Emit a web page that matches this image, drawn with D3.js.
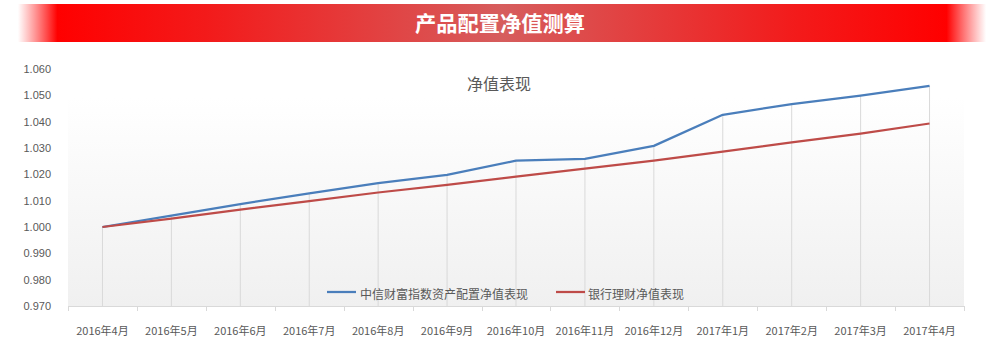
<!DOCTYPE html>
<html>
<head>
<meta charset="utf-8">
<script src="https://cdn.jsdelivr.net/npm/d3@7/dist/d3.min.js"></script>
<style>
  html, body { margin: 0; padding: 0; background: #fff; }
  svg { display: block; font-family: "Noto Sans CJK SC", "Noto Sans", sans-serif; }
</style>
</head>
<body>
<svg id="chart" width="1004" height="349"></svg>
<script>
// Monthly net value of the two products
const months = ["2016年4月", "2016年5月", "2016年6月", "2016年7月", "2016年8月", "2016年9月",
  "2016年10月", "2016年11月", "2016年12月", "2017年1月", "2017年2月", "2017年3月", "2017年4月"];
const citicValues = [1.0000, 1.0043, 1.0087, 1.0128, 1.0167, 1.0198, 1.0252,
  1.0259, 1.0308, 1.0426, 1.0467, 1.0499, 1.0536];
const bankValues = [1.0000, 1.0032, 1.0066, 1.0098, 1.0131, 1.0160, 1.0191,
  1.0222, 1.0252, 1.0286, 1.0321, 1.0355, 1.0393];
const yTicks = [0.970, 0.980, 0.990, 1.000, 1.010, 1.020, 1.030, 1.040, 1.050, 1.060];
const seriesNames = ["中信财富指数资产配置净值表现", "银行理财净值表现"];
const seriesColors = ["#4a7ebb", "#be4b48"];
const bannerTitle = "产品配置净值测算";
const chartTitle = "净值表现";

const svg = d3.select("#chart");
const defs = svg.append("defs");

// Banner gradient: fades in from white, bright red, softer red in the middle
const bg = defs.append("linearGradient").attr("id", "banner").attr("x1", "0").attr("x2", "1");
[[0, "#ffffff", 0], [0.01, "#ffffff", 0.9], [0.05, "#ff0000", 1], [0.2, "#f31a1a", 1],
 [0.5, "#d65d5d", 1], [0.8, "#f31a1a", 1], [0.95, "#ff0000", 1], [0.99, "#ffffff", 0.9], [1, "#ffffff", 0]]
  .forEach(([o, c, a]) => bg.append("stop").attr("offset", o).attr("stop-color", c).attr("stop-opacity", a));

svg.append("rect").attr("x", 8).attr("y", 4).attr("width", 988).attr("height", 38)
  .attr("rx", 3).attr("fill", "url(#banner)");
svg.append("text").attr("x", 500).attr("y", 30.5).attr("text-anchor", "middle")
  .attr("fill", "#fff").attr("font-size", 21).attr("font-weight", "bold")
  .attr("textLength", 170).attr("lengthAdjust", "spacingAndGlyphs")
  .text(bannerTitle);

// Plot area
const left = 68, right = 964, axisY = 306;
const x = d3.scaleBand().domain(months).range([left, right]);
const y = d3.scaleLinear().domain([0.970, 1.060]).range([axisY, 69]);

const pg = defs.append("linearGradient").attr("id", "plotbg").attr("x1", "0").attr("x2", "0").attr("y1", "0").attr("y2", "1");
pg.append("stop").attr("offset", 0).attr("stop-color", "#ffffff");
pg.append("stop").attr("offset", 1).attr("stop-color", "#f0f0f0");
svg.append("rect").attr("x", left).attr("y", 97).attr("width", right - left).attr("height", axisY - 97)
  .attr("fill", "url(#plotbg)");

// Chart title
svg.append("text").attr("x", 499).attr("y", 90).attr("text-anchor", "middle")
  .attr("fill", "#595959").attr("font-size", 16).text(chartTitle);

// Drop lines from the highest point of each month down to the axis
const cx = d => x(d) + x.bandwidth() / 2;
svg.append("g").selectAll("line").data(months).join("line")
  .attr("x1", d => cx(d)).attr("x2", d => cx(d))
  .attr("y1", (d, i) => y(Math.max(citicValues[i], bankValues[i])))
  .attr("y2", axisY)
  .attr("stroke", "#d9d9d9").attr("stroke-width", 1);

// X axis with ticks between categories
const xg = svg.append("g");
xg.append("line").attr("x1", left).attr("x2", right).attr("y1", axisY + 0.5).attr("y2", axisY + 0.5)
  .attr("stroke", "#d9d9d9").attr("stroke-width", 1);
const bounds = months.map(m => x(m)).concat([right]);
xg.selectAll("line.tk").data(bounds).join("line").attr("class", "tk")
  .attr("x1", d => Math.round(d) + 0.5).attr("x2", d => Math.round(d) + 0.5)
  .attr("y1", axisY).attr("y2", axisY + 5)
  .attr("stroke", "#d9d9d9").attr("stroke-width", 1);
xg.selectAll("text").data(months).join("text")
  .attr("x", d => cx(d)).attr("y", 335).attr("text-anchor", "middle")
  .attr("fill", "#595959").attr("font-size", 11).text(d => d);

// Y axis labels
svg.append("g").selectAll("text").data(yTicks).join("text")
  .attr("x", 51).attr("y", d => y(d) + 4).attr("text-anchor", "end")
  .attr("fill", "#595959").attr("font-size", 11)
  .attr("font-family", "'Liberation Sans', Arial, sans-serif")
  .text(d => d3.format(".3f")(d));

// Series lines
const line = d3.line().x((d, i) => cx(months[i])).y(d => y(d));
[citicValues, bankValues].forEach((vals, k) => {
  svg.append("path").datum(vals).attr("d", line)
    .attr("fill", "none").attr("stroke", seriesColors[k]).attr("stroke-width", 2.25)
    .attr("stroke-linejoin", "round");
});

// Legend
const legendItems = [{x: 327, tx: 360}, {x: 556, tx: 588}];
legendItems.forEach((p, k) => {
  svg.append("line").attr("x1", p.x).attr("x2", p.x + 29).attr("y1", 292).attr("y2", 292)
    .attr("stroke", seriesColors[k]).attr("stroke-width", 2.25);
  svg.append("text").attr("x", p.tx).attr("y", 299).attr("fill", "#595959")
    .attr("font-size", 12).text(seriesNames[k]);
});
</script>
</body>
</html>
